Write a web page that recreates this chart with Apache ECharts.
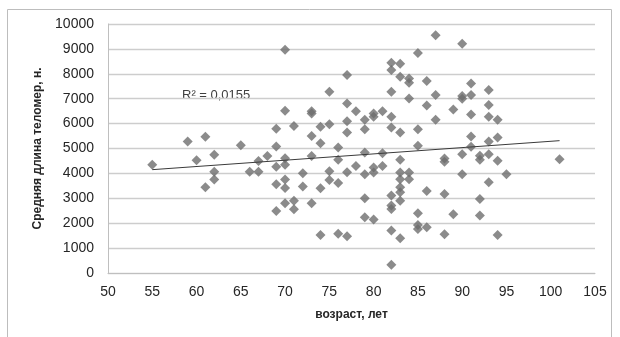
<!DOCTYPE html>
<html>
<head>
<meta charset="utf-8">
<script src="https://cdn.jsdelivr.net/npm/echarts@6/dist/echarts.min.js"></script>
<style>
  html, body { margin: 0; padding: 0; background: #fff; }
  #chart { width: 620px; height: 337px; }
</style>
</head>
<body>
<div id="chart"></div>
<script>
// возраст (лет) и средняя длина теломер, читаются с картинки
const ages = [
  55, 59, 60, 61, 61, 62, 62, 62, 65, 66, 67, 67, 68,
  69, 69, 69, 69, 69,
  70, 70, 70, 70, 70, 70, 70,
  71, 71, 71, 72, 72,
  73, 73, 73, 73, 73,
  74, 74, 74, 74,
  75, 75, 75, 75,
  76, 76, 76, 76,
  77, 77, 77, 77, 77, 77,
  78, 78,
  79, 79, 79, 79, 79, 79,
  80, 80, 80, 80, 80,
  81, 81, 81,
  82, 82, 82, 82, 82, 82, 82, 82, 82, 82,
  83, 83, 83, 83, 83, 83, 83, 83, 83, 83,
  84, 84, 84, 84, 84,
  85, 85, 85, 85, 85, 85,
  86, 86, 86, 86,
  87, 87, 87,
  88, 88, 88, 88,
  89, 89,
  90, 90, 90, 90, 90,
  91, 91, 91, 91, 91,
  92, 92, 92, 92,
  93, 93, 93, 93, 93, 93,
  94, 94, 94, 94,
  95, 101
];
const lengths = [
  4350, 5280, 4530, 5470, 3440, 4750, 4070, 3760, 5130, 4070, 4070, 4500, 4700,
  5790, 5080, 4270, 3560, 2490,
  8970, 6520, 4610, 4350, 3760, 3410, 2800,
  5900, 2900, 2560, 4010, 3470,
  6500, 6410, 5500, 4700, 2800,
  5870, 5210, 3400, 1530,
  7280, 5970, 4090, 3730,
  5040, 4550, 3610, 1580,
  7950, 6810, 6090, 5640, 4050, 1480,
  6500, 4300,
  6150, 5770, 4840, 3970, 3000, 2240,
  6410, 6280, 4240, 4040, 2150,
  6500, 4810, 4300,
  8440, 8150, 7280, 6280, 5840, 3110, 2710, 2570, 1710, 330,
  8400, 7880, 5640, 4550, 4040, 3770, 3440, 3240, 2900, 1400,
  7810, 7640, 7010, 4040, 3770,
  8840, 5770, 5110, 2400, 1930, 1770,
  7710, 6730, 3290, 1840,
  9550, 7150, 6150,
  4600, 4470, 3170, 1560,
  6570, 2360,
  9210, 7110, 7000, 4770, 3970,
  7610, 7150, 6370, 5480, 5070,
  4710, 4550, 2970, 2310,
  7350, 6750, 6280, 5280, 4770, 3640,
  6150, 5440, 4510, 1530,
  3970, 4570
];

// линия тренда (концы)
const trendX = [55, 101];
const trendY = [4150, 5315];
const r2Label = 'R² = 0,0155';

const points = ages.map((a, i) => [a, lengths[i]]);
const trend = trendX.map((x, i) => [x, trendY[i]]);

const font = 'Liberation Sans, Arial, sans-serif';
const chart = echarts.init(document.getElementById('chart'));
chart.setOption({
  animation: false,
  grid: { left: 108, right: 25, top: 24, bottom: 64 },
  xAxis: {
    type: 'value',
    min: 50, max: 105, interval: 5,
    name: 'возраст, лет',
    nameLocation: 'middle',
    nameGap: 36,
    nameTextStyle: { fontFamily: font, fontSize: 12, fontWeight: 'bold', color: '#262626' },
    axisLine: { show: true, lineStyle: { color: '#bfbfbf' } },
    axisTick: { show: false },
    splitLine: { show: false },
    axisLabel: { fontFamily: font, fontSize: 14, color: '#262626', margin: 12 }
  },
  yAxis: {
    type: 'value',
    min: 0, max: 10000, interval: 1000,
    name: 'Средняя длина теломер, н.',
    nameLocation: 'middle',
    nameGap: 57,
    nameTextStyle: { fontFamily: font, fontSize: 12, fontWeight: 'bold', color: '#262626' },
    axisLine: { show: true, lineStyle: { color: '#bfbfbf' } },
    axisTick: { show: false },
    splitLine: { lineStyle: { color: '#cdcdcd', width: 1.3 } },
    axisLabel: {
      fontFamily: font, fontSize: 14, color: '#262626', margin: 14,
      formatter: v => String(v)
    }
  },
  graphic: [
    {
      type: 'rect',
      shape: { x: 7.5, y: 9.5, width: 604, height: 340 },
      style: { fill: 'none', stroke: '#bdbdbd', lineWidth: 1 },
      z: -10
    },
    {
      type: 'text',
      left: 182, top: 89,
      style: { text: r2Label, fontFamily: font, fontSize: 13, fill: '#404040' }
    }
  ],
  series: [
    {
      type: 'scatter',
      data: points,
      symbol: 'diamond',
      symbolSize: 10,
      itemStyle: { color: '#6e6e6e' }
    },
    {
      type: 'line',
      data: trend,
      symbol: 'none',
      lineStyle: { color: '#3a3a3a', width: 1 },
      z: 5
    }
  ]
});
</script>
</body>
</html>
